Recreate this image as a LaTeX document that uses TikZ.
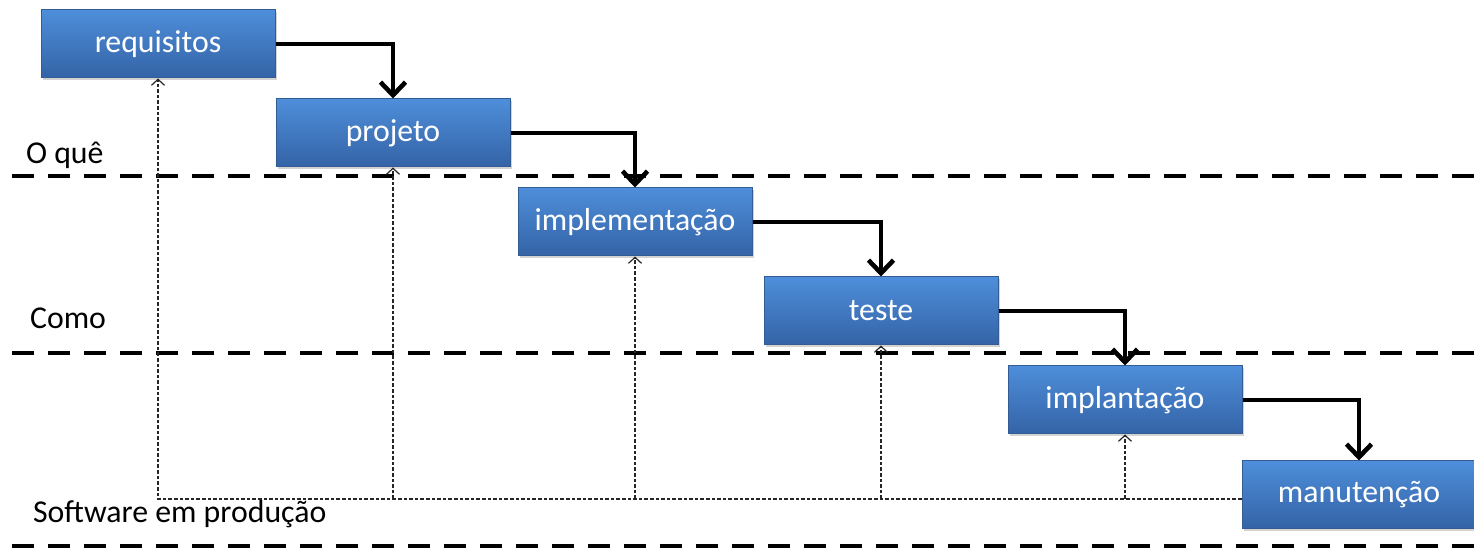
\documentclass[tikz,border=0pt]{standalone}
\usepackage{fontspec}
\setmainfont{Carlito}
\usetikzlibrary{positioning,arrows.meta,shadows}

\begin{document}
\begin{tikzpicture}[
        x=0.5pt,y=-0.5pt,
        node distance=10pt and 4pt,
        fase/.style={draw={rgb,255:red,52;green,92;blue,148},line width=0.5pt,
            top color={rgb,255:red,78;green,142;blue,218},
            bottom color={rgb,255:red,52;green,99;blue,166},
            minimum width=117pt,minimum height=34pt,text=white,
            font=\fontsize{15.9}{18}\selectfont,
            drop shadow={shadow xshift=1.2pt,shadow yshift=-1.2pt,opacity=0.35}},
        fluxo/.style={line width=2.3pt,-{Straight Barb[length=6.5pt,width=12.5pt]}},
        volta/.style={line width=0.6pt,dash pattern=on 1.8pt off 1pt,black!85,
            -{Straight Barb[length=3pt,width=6.5pt,line width=0.6pt]}},
        nivel/.style={line width=2pt,dash pattern=on 11pt off 7pt},
        rotulo/.style={anchor=base west,font=\fontsize{15.9}{18}\selectfont}
    ]
    \useasboundingbox (0,0) rectangle (1474,550);

    % fases
    \node (requisitos) [fase] at (158,44) {requisitos};
    \node (projeto) [fase,below right=10pt and 0pt of requisitos] {projeto};
    \node (implementacao) [fase,below right=10pt and 3.5pt of projeto] {implementação};
    \node (teste) [fase,below right=10pt and 5.5pt of implementacao] {teste};
    \node (implantacao) [fase,below right=10pt and 4.5pt of teste] {implantação};
    \node (manutencao) [fase,below right=13pt and -0.5pt of implantacao] {manutenção};

    % niveis
    \draw [nivel] (12,176) -- (1474,176);
    \draw [nivel] (12,353) -- (1474,353);
    \draw [nivel] (12,546) -- (1474,546);
    \node (oque) [rotulo] at (19,164) {O quê};
    \node (como) [rotulo] at (23,329) {Como};
    \node (producao) [rotulo] at (26,523) {Software em produção};

    % cascata
    \draw [fluxo] (requisitos.east) -| (projeto.north);
    \draw [fluxo] (projeto.east) -| (implementacao.north);
    \draw [fluxo] (implementacao.east) -| (teste.north);
    \draw [fluxo] (teste.east) -| (implantacao.north);
    \draw [fluxo] (implantacao.east) -| (manutencao.north);

    % realimentacao
    \coordinate (retorno) at ([yshift=-2pt]manutencao.west);
    \draw [volta] (retorno) -| (requisitos.south);
    \draw [volta] (projeto.south |- retorno) -- (projeto.south);
    \draw [volta] (implementacao.south |- retorno) -- (implementacao.south);
    \draw [volta] (teste.south |- retorno) -- (teste.south);
    \draw [volta] (implantacao.south |- retorno) -- (implantacao.south);
\end{tikzpicture}
\end{document}
